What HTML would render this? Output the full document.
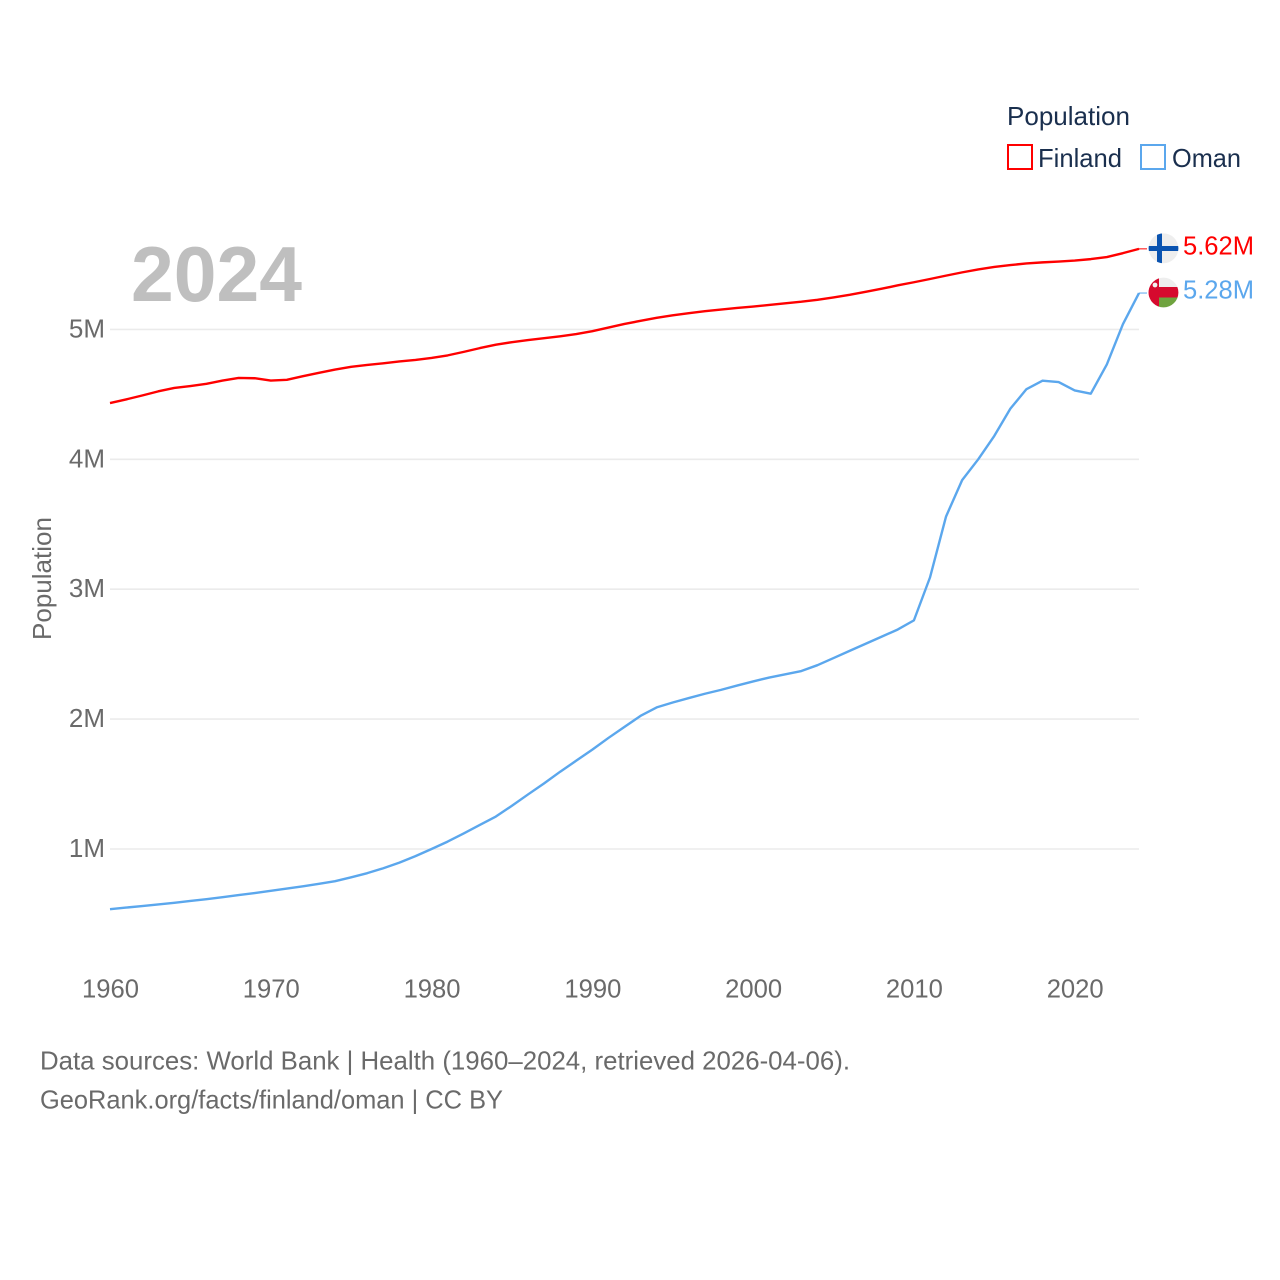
<!DOCTYPE html>
<html lang="en">
<head>
<meta charset="utf-8">
<title>Population: Finland and Oman</title>
<style>
html,body{margin:0;padding:0;background:#fff;width:1280px;height:1280px;overflow:hidden}
svg{display:block}
text{font-family:"Liberation Sans",sans-serif}
</style>
</head>
<body>
<svg id="chart" xmlns="http://www.w3.org/2000/svg" width="1280" height="1280" viewBox="0 0 1280 1280">
  <defs>
    <clipPath id="clip-fi"><circle cx="1163.5" cy="248.3" r="14.9"/></clipPath>
    <clipPath id="clip-om"><circle cx="1163.5" cy="292.5" r="14.9"/></clipPath>
  </defs>
  <rect x="0" y="0" width="1280" height="1280" fill="#fff"/>
  <g id="grid"></g>
  <g id="yticks"></g>
  <g id="xticks"></g>
  <text x="131" y="301" font-size="78" font-weight="700" fill="#bfbfbf" textLength="171" lengthAdjust="spacingAndGlyphs">2024</text>
  <text transform="translate(51,640) rotate(-90)" font-size="26" fill="#6a6a6a" textLength="123" lengthAdjust="spacingAndGlyphs">Population</text>
  <g id="series"></g>

  <g clip-path="url(#clip-fi)">
    <rect x="1147" y="232" width="33" height="33" fill="#eeeeee"/>
    <rect x="1157" y="232" width="5" height="33" fill="#0a53b0"/>
    <rect x="1147" y="246" width="33" height="5" fill="#0a53b0"/>
  </g>
  <g clip-path="url(#clip-om)">
    <rect x="1147" y="277" width="33" height="32" fill="#eeeeee"/>
    <rect x="1147" y="287" width="33" height="10.5" fill="#d60a2e"/>
    <rect x="1147" y="277" width="12" height="32" fill="#d60a2e"/>
    <rect x="1159" y="297.5" width="21" height="12" fill="#6fa33f"/>
    <circle cx="1155" cy="285" r="2.4" fill="#f2f2f2"/>
  </g>

  <text id="label-fi" x="1183" y="254.5" font-size="26" fill="#ff0000" textLength="71" lengthAdjust="spacingAndGlyphs">5.62M</text>
  <text id="label-om" x="1183" y="298.5" font-size="26" fill="#5ba7ed" textLength="71" lengthAdjust="spacingAndGlyphs">5.28M</text>

  <g>
    <text x="1007" y="125" font-size="26" fill="#1a2f4e" textLength="123" lengthAdjust="spacingAndGlyphs">Population</text>
    <g>
      <rect x="1008" y="145" width="24" height="24" fill="#fff" stroke="#ff0000" stroke-width="2"/>
      <text x="1038" y="167" font-size="26" fill="#1a2f4e" textLength="84" lengthAdjust="spacingAndGlyphs">Finland</text>
    </g>
    <g>
      <rect x="1141" y="145" width="24" height="24" fill="#fff" stroke="#5ba7ed" stroke-width="2"/>
      <text x="1172" y="167" font-size="26" fill="#1a2f4e" textLength="69" lengthAdjust="spacingAndGlyphs">Oman</text>
    </g>
  </g>

  <text x="40" y="1069.5" font-size="26" fill="#6a6a6a" textLength="810" lengthAdjust="spacingAndGlyphs">Data sources: World Bank | Health (1960–2024, retrieved 2026-04-06).</text>
  <text x="40" y="1108.5" font-size="26" fill="#6a6a6a" textLength="463" lengthAdjust="spacingAndGlyphs">GeoRank.org/facts/finland/oman | CC BY</text>
</svg>
<script>
const startYear = 1960;
const xTickYears = [1960, 1970, 1980, 1990, 2000, 2010, 2020];
const yTickValues = [1, 2, 3, 4, 5];
const finlandValues = [4.433, 4.461, 4.491, 4.523, 4.549, 4.564, 4.581, 4.606, 4.626, 4.624, 4.606, 4.612, 4.640, 4.666, 4.691, 4.712, 4.726, 4.739, 4.753, 4.765, 4.780, 4.800, 4.827, 4.856, 4.882, 4.902, 4.918, 4.932, 4.947, 4.964, 4.986, 5.014, 5.042, 5.066, 5.089, 5.108, 5.125, 5.140, 5.153, 5.165, 5.176, 5.188, 5.201, 5.213, 5.228, 5.246, 5.266, 5.289, 5.313, 5.339, 5.363, 5.388, 5.414, 5.439, 5.462, 5.481, 5.495, 5.508, 5.516, 5.522, 5.530, 5.541, 5.557, 5.587, 5.620];
const omanValues = [0.537, 0.549, 0.561, 0.573, 0.586, 0.600, 0.614, 0.629, 0.645, 0.661, 0.678, 0.695, 0.713, 0.732, 0.752, 0.782, 0.814, 0.852, 0.895, 0.945, 1.000, 1.057, 1.120, 1.185, 1.250, 1.333, 1.420, 1.505, 1.595, 1.680, 1.765, 1.855, 1.940, 2.025, 2.090, 2.128, 2.162, 2.195, 2.225, 2.258, 2.290, 2.320, 2.345, 2.370, 2.415, 2.470, 2.525, 2.580, 2.635, 2.690, 2.760, 3.090, 3.560, 3.840, 4.000, 4.180, 4.390, 4.540, 4.605, 4.595, 4.530, 4.505, 4.730, 5.040, 5.280];

const SVG_NS = "http://www.w3.org/2000/svg";
function xScale(year) { return 110 + (year - 1960) * (1139 - 110) / 64; }
function yScale(millions) { return 978.9 - millions * 129.9; }

function makeEl(tag) { return document.createElementNS(SVG_NS, tag); }

const gridGroup = document.getElementById("grid");
const yGroup = document.getElementById("yticks");
yTickValues.forEach(function (v) {
  const line = makeEl("line");
  
  
  line.setAttribute("x1", 110);
  line.setAttribute("x2", 1139);
  line.setAttribute("y1", yScale(v));
  line.setAttribute("y2", yScale(v));
  line.setAttribute("stroke", "#ebebeb");
  line.setAttribute("stroke-width", "1.6");
  gridGroup.appendChild(line);

  const label = makeEl("text");
  
  
  label.setAttribute("x", 105);
  label.setAttribute("y", yScale(v) + 8);
  label.setAttribute("text-anchor", "end");
  label.setAttribute("font-size", "26");
  label.setAttribute("fill", "#6a6a6a");
  label.textContent = v + "M";
  yGroup.appendChild(label);
});

const xGroup = document.getElementById("xticks");
xTickYears.forEach(function (yr) {
  const label = makeEl("text");
  
  
  label.setAttribute("x", xScale(yr) + 0.5);
  label.setAttribute("y", 997.5);
  label.setAttribute("text-anchor", "middle");
  label.setAttribute("font-size", "26");
  label.setAttribute("fill", "#6a6a6a");
  label.setAttribute("textLength", "57");
  label.setAttribute("lengthAdjust", "spacingAndGlyphs");
  label.textContent = String(yr);
  xGroup.appendChild(label);
});

function linePath(values) {
  return values.map(function (v, i) {
    return (i ? "L" : "M") + xScale(startYear + i).toFixed(2) + " " + yScale(v).toFixed(2);
  }).join(" ");
}

const seriesGroup = document.getElementById("series");

const finlandLine = makeEl("path");


finlandLine.setAttribute("d", linePath(finlandValues));
finlandLine.setAttribute("fill", "none");
finlandLine.setAttribute("stroke", "#ff0000");
finlandLine.setAttribute("stroke-width", "2.4");
finlandLine.setAttribute("stroke-linejoin", "round");
seriesGroup.appendChild(finlandLine);

const omanLine = makeEl("path");


omanLine.setAttribute("d", linePath(omanValues));
omanLine.setAttribute("fill", "none");
omanLine.setAttribute("stroke", "#5ba7ed");
omanLine.setAttribute("stroke-width", "2.4");
omanLine.setAttribute("stroke-linejoin", "round");
seriesGroup.appendChild(omanLine);

const finlandLeader = makeEl("line");


finlandLeader.setAttribute("x1", xScale(2024));
finlandLeader.setAttribute("x2", 1147);
finlandLeader.setAttribute("y1", yScale(finlandValues[finlandValues.length - 1]));
finlandLeader.setAttribute("y2", yScale(finlandValues[finlandValues.length - 1]));
finlandLeader.setAttribute("stroke", "#ff0000");
finlandLeader.setAttribute("stroke-width", "1");
seriesGroup.appendChild(finlandLeader);

const omanLeader = makeEl("line");


omanLeader.setAttribute("x1", xScale(2024));
omanLeader.setAttribute("x2", 1147);
omanLeader.setAttribute("y1", yScale(omanValues[omanValues.length - 1]));
omanLeader.setAttribute("y2", yScale(omanValues[omanValues.length - 1]));
omanLeader.setAttribute("stroke", "#5ba7ed");
omanLeader.setAttribute("stroke-width", "1");
seriesGroup.appendChild(omanLeader);
</script>
</body>
</html>
